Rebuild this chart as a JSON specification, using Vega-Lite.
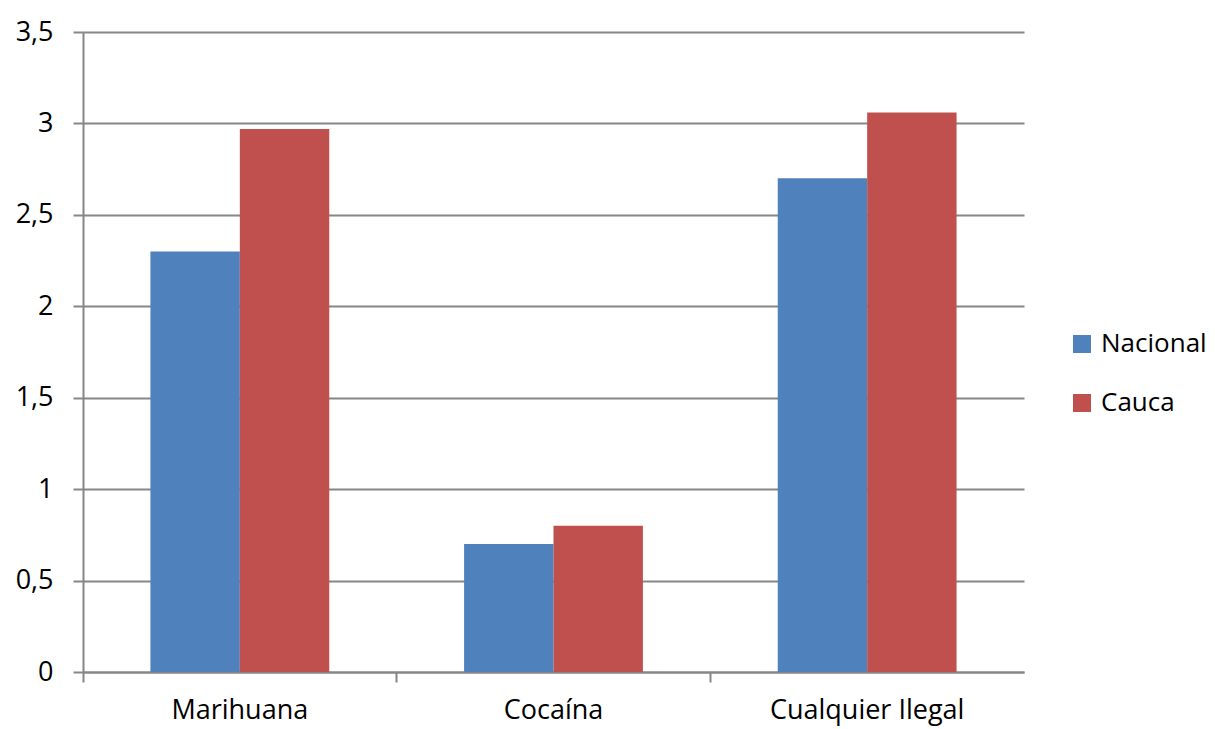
{
  "$schema": "https://vega.github.io/schema/vega-lite/v6.json",
  "width": 941,
  "height": 640,
  "autosize": "none",
  "padding": {"left": 83, "top": 32, "right": 191, "bottom": 57},
  "background": "white",
  "config": {"view": {"stroke": null}, "font": "Open Sans"},
  "data": {
    "values": [
      {"cat": "Marihuana", "serie": "Nacional", "valor": 2.3},
      {"cat": "Marihuana", "serie": "Cauca", "valor": 2.97},
      {"cat": "Cocaína", "serie": "Nacional", "valor": 0.7},
      {"cat": "Cocaína", "serie": "Cauca", "valor": 0.8},
      {"cat": "Cualquier Ilegal", "serie": "Nacional", "valor": 2.7},
      {"cat": "Cualquier Ilegal", "serie": "Cauca", "valor": 3.06}
    ]
  },
  "mark": {"type": "bar"},
  "encoding": {
    "x": {
      "field": "cat", "type": "nominal",
      "sort": ["Marihuana", "Cocaína", "Cualquier Ilegal"],
      "scale": {"paddingInner": 0, "paddingOuter": 0},
      "axis": {
        "title": null, "labelAngle": 0, "labelFontSize": 27, "labelColor": "#000000",
        "labelPadding": 15, "labelLimit": 0, "bandPosition": 0, "tickSize": 10, "tickColor": "#868686",
        "tickWidth": 2, "domainColor": "#868686", "domainWidth": 2, "grid": false
      }
    },
    "xOffset": {
      "field": "serie", "type": "nominal", "sort": ["Nacional", "Cauca"],
      "scale": {"paddingInner": 0, "paddingOuter": 0.754}
    },
    "y": {
      "field": "valor", "type": "quantitative",
      "scale": {"domain": [0, 3.5], "nice": false},
      "axis": {
        "title": null, "values": [0, 0.5, 1, 1.5, 2, 2.5, 3, 3.5],
        "labelExpr": "replace(format(datum.value, '~g'), '.', ',')",
        "labelFontSize": 27, "labelColor": "#000000", "labelPadding": 20,
        "tickSize": 10, "tickColor": "#868686", "tickWidth": 2,
        "domainColor": "#868686", "domainWidth": 2,
        "grid": true, "gridColor": "#868686", "gridWidth": 2
      }
    },
    "color": {
      "field": "serie", "type": "nominal", "sort": ["Nacional", "Cauca"],
      "scale": {"domain": ["Nacional", "Cauca"], "range": ["#4F81BD", "#C0504D"]},
      "legend": {
        "title": null, "orient": "none", "legendX": 986, "legendY": 299,
        "symbolType": "square", "symbolSize": 324, "symbolStrokeWidth": 0,
        "labelFontSize": 26, "labelLimit": 0, "labelColor": "#000000", "rowPadding": 33, "labelOffset": 6
      }
    }
  }
}
